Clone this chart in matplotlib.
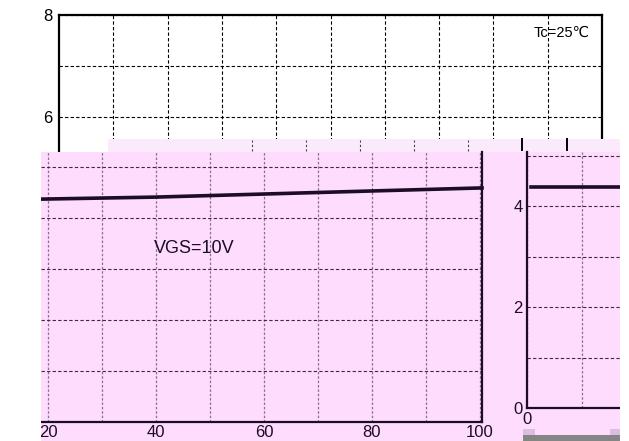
import matplotlib.pyplot as plt
from matplotlib.patches import Rectangle

W, H = 629, 441

# top (white) chart
top_yticks = [6, 7, 8]
top_ytick_labels = ["6", "", "8"]
top_xgrid = [10, 20, 30, 40, 50, 60, 70, 80, 90, 100]
tc_label = "Tc=25\u2103"

# lower left (pink) chart
left_xticks = [20, 30, 40, 50, 60, 70, 80, 90, 100]
left_xtick_labels = ["20", "", "40", "", "60", "", "80", "", "100"]
left_ygrid = [1, 2, 3, 4, 5]
left_x = [18.7, 40, 60, 80, 100.4]
left_y = [4.37, 4.41, 4.47, 4.53, 4.59]
vgs_label = "VGS=10V"

# lower right (pink) chart
right_yticks = [0, 1, 2, 3, 4, 5]
right_ytick_labels = ["0", "", "2", "", "4", ""]
right_xticks = [0, 10]
right_xtick_labels = ["0", ""]
right_x = [0.7, 17]
right_y = [4.37, 4.37]

PINK = "#fddcfd"
INK = "#1c0c24"
FONT = ["Liberation Sans", "DejaVu Sans"]
plt.rcParams["font.family"] = FONT


def box(x0, y0, x1, y1):
    # pixel box (top-left origin) -> figure fraction rect
    return [x0 / W, 1 - y1 / H, (x1 - x0) / W, (y1 - y0) / H]


def fig_rect(fig, x0, y0, x1, y1, color, z=20):
    l, b, w, h = box(x0, y0, x1, y1)
    fig.add_artist(Rectangle((l, b), w, h, transform=fig.transFigure,
                             facecolor=color, edgecolor="none", zorder=z))


fig = plt.figure(figsize=(W / 100, H / 100), dpi=100)

# ---- top chart
ax = fig.add_axes(box(59, 15, 602, 152))
ax.set_xlim(0, 100)
ax.set_ylim(8 - 137 / 51, 8)
ax.set_xticks(top_xgrid)
ax.set_yticks(top_yticks)
ax.set_yticklabels(top_ytick_labels)
ax.tick_params(length=0, labelbottom=False, labelsize=12, pad=5)
ax.grid(True, color="black", ls=(0, (3, 2)), lw=0.8)
for s in ["top", "left", "right"]:
    ax.spines[s].set_linewidth(1.6)
ax.spines["bottom"].set_visible(False)
ax.text(0.925, 0.87, tc_label, transform=ax.transAxes, fontsize=10.5,
        ha="center", va="center", family=FONT)

# ---- pink backdrop of the pasted lower part
fig_rect(fig, 41, 152, 620, 441, PINK, z=5)

# glitch strip between the two parts
fig_rect(fig, 108, 139, 620, 152, "#fbeafb", z=6)
fig_rect(fig, 41, 152, 84, 163, "#fbe6fb", z=6)
for xp in [252, 306, 360, 414, 468]:
    l = xp / W
    fig.add_artist(plt.Line2D([l, l], [1 - 151 / H, 1 - 140 / H], transform=fig.transFigure,
                              color="#444", lw=0.8, ls=(0, (2, 2)), zorder=7))
for xp in [522, 567]:
    l = xp / W
    fig.add_artist(plt.Line2D([l, l], [1 - 150 / H, 1 - 139 / H], transform=fig.transFigure,
                              color="black", lw=1.4, zorder=7))

# ---- lower left chart
al = fig.add_axes(box(41, 152, 482, 422))
al.set_zorder(8)
al.set_facecolor(PINK)
al.set_xlim(18.7, 100.4)
al.set_ylim(0, 270 / 51)
al.set_xticks(left_xticks)
al.set_xticklabels(left_xtick_labels)
al.set_yticks(left_ygrid)
al.tick_params(length=0, labelleft=False, labelsize=12, labelcolor=INK, pad=2)
al.xaxis.grid(True, color="#8c708c", ls=(0, (2, 1.5)), lw=0.9)
al.yaxis.grid(True, color="#3e2c3e", ls=(0, (3, 2)), lw=0.8)
al.spines["left"].set_visible(False)
al.spines["top"].set_visible(False)
al.spines["right"].set_color(INK)
al.spines["bottom"].set_color(INK)
al.spines["right"].set_linewidth(1.6)
al.spines["bottom"].set_linewidth(1.6)
al.plot(left_x, left_y, color=INK, lw=2.6, clip_on=False)
al.text(47, 3.4, vgs_label, fontsize=13, color=INK, ha="center", va="center")

# ---- lower right chart
ar = fig.add_axes(box(527, 152, 620, 408))
ar.set_zorder(8)
ar.set_facecolor(PINK)
ar.set_xlim(0, 93 / 5.5)
ar.set_ylim(0, 256 / 50.5)
ar.set_xticks(right_xticks)
ar.set_xticklabels(right_xtick_labels)
ar.set_yticks(right_yticks)
ar.set_yticklabels(right_ytick_labels)
ar.tick_params(length=0, labelsize=12, labelcolor=INK, pad=3)
ar.xaxis.grid(True, color="#8c708c", ls=(0, (2, 1.5)), lw=0.9)
ar.yaxis.grid(True, color="#3e2c3e", ls=(0, (3, 2)), lw=0.8)
ar.spines["top"].set_visible(False)
ar.spines["right"].set_visible(False)
ar.spines["left"].set_color(INK)
ar.spines["bottom"].set_color(INK)
ar.spines["left"].set_linewidth(1.6)
ar.spines["bottom"].set_linewidth(1.6)
ar.plot(right_x, right_y, color=INK, lw=2.6)

# white margins that crop the pasted part
fig_rect(fig, 0, 152, 41, 441, "white", z=30)
fig_rect(fig, 620, 139, 629, 441, "white", z=30)

# bottom glitch bits
fig_rect(fig, 523, 429, 535, 435, "#dcbce2", z=31)
fig_rect(fig, 610, 429, 620, 435, "#dcbce2", z=31)
fig_rect(fig, 523, 435, 620, 441, "#858585", z=31)

fig.savefig("out.png", dpi=100)
